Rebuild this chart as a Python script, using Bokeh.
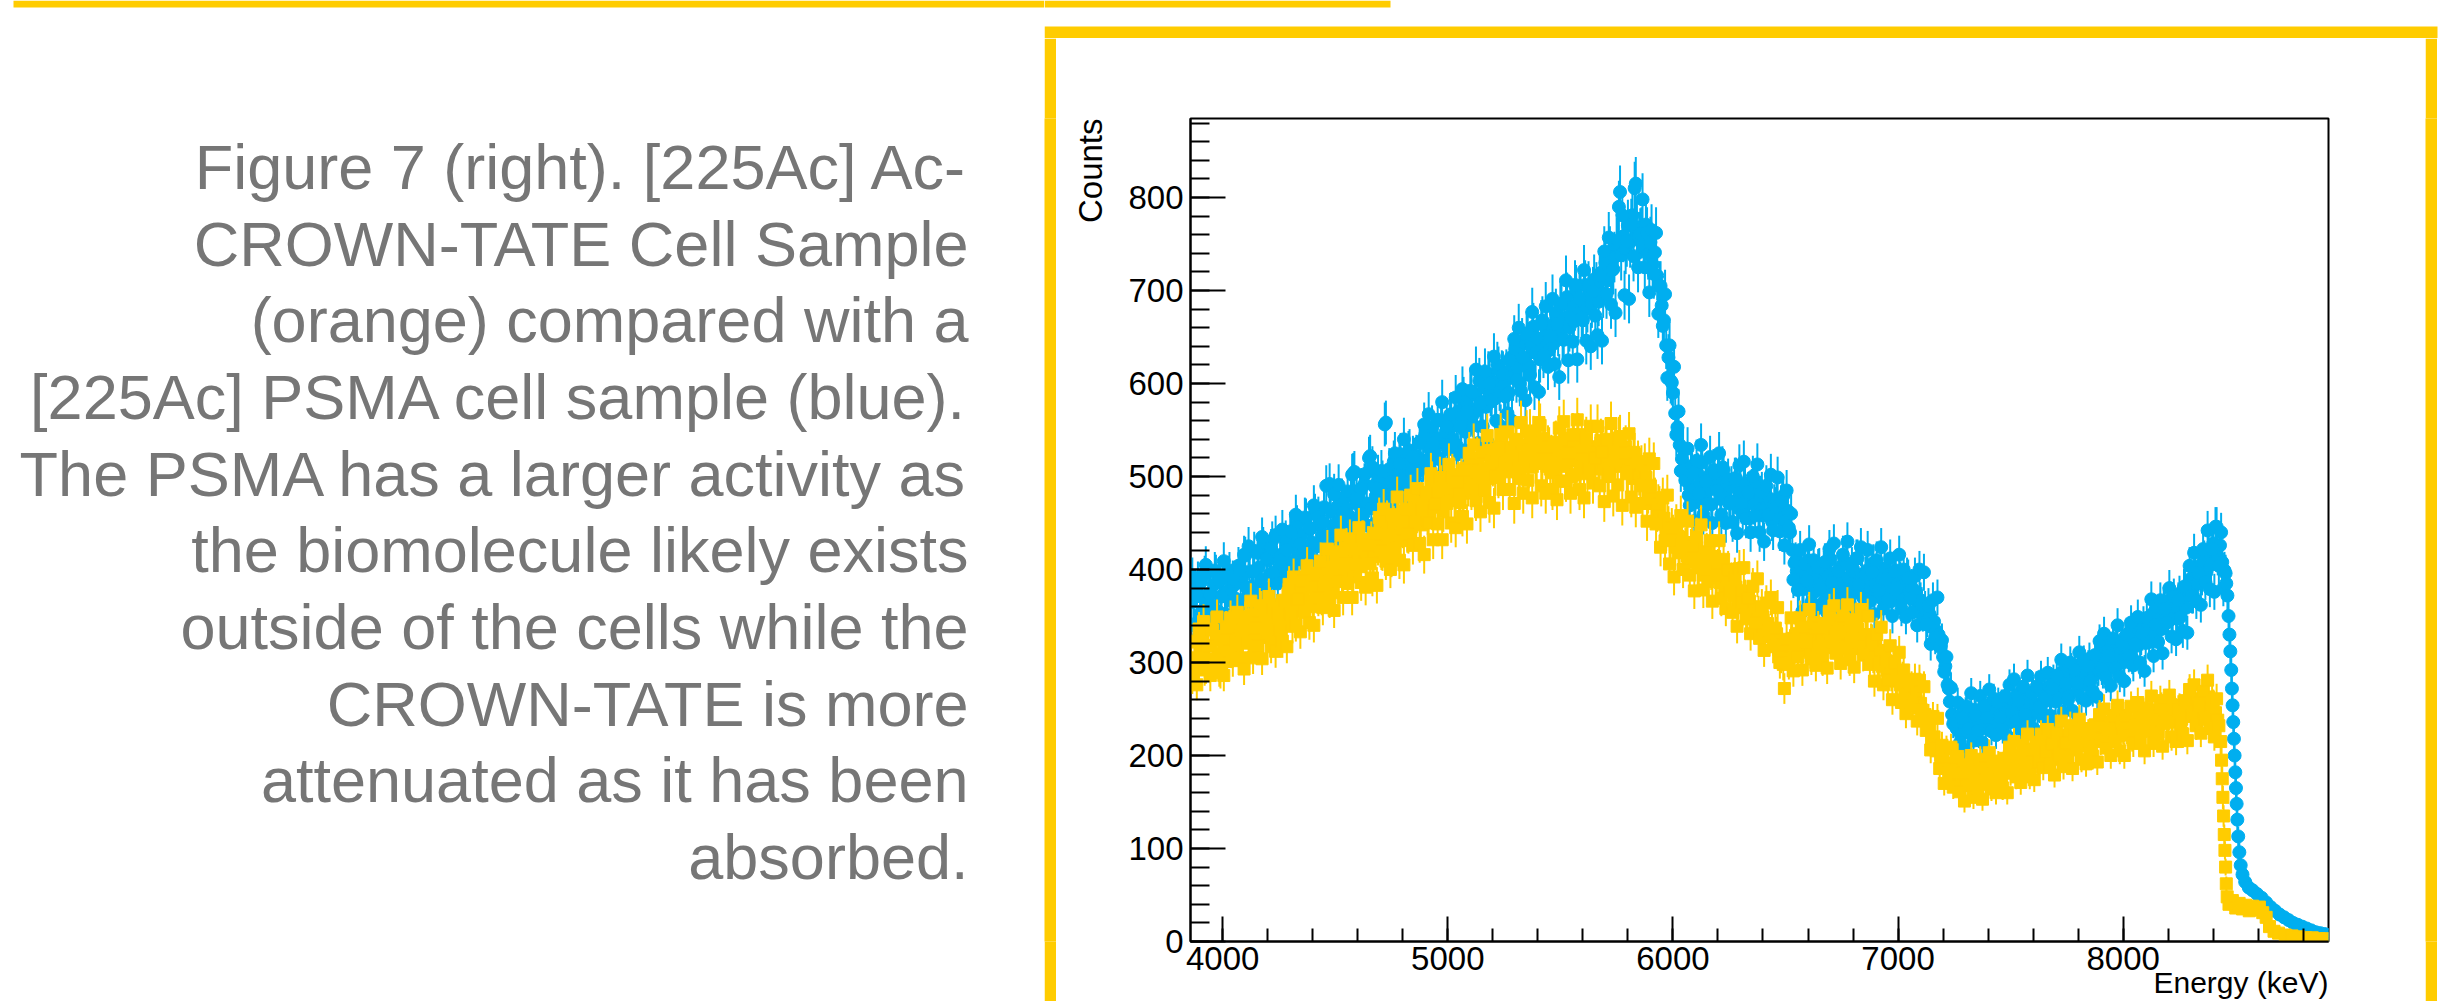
import numpy as np
from bokeh.plotting import figure
from bokeh.layouts import row, column
from bokeh.models import Range1d, SingleIntervalTicker, ColumnDataSource, Title
from bokeh.core.properties import value
from bokeh.embed import file_html
from bokeh.resources import INLINE

# ---------------- data ----------------
# Two interleaved sets of 10 keV bins: set A at E_START + 10 i, set B at E_START + 5 + 10 i
E_START = 3860      # keV
E_STEP = 10         # keV
E_SHIFT_B = 5       # keV offset of set B

# [225Ac] PSMA cell sample (blue), one row = 200 keV
psma_counts_a = [
    365, 341, 378, 389, 352, 370, 395, 348, 374, 361, 384, 396, 355, 371, 390, 350, 377, 399, 366, 383,
    387, 404, 362, 393, 415, 371, 398, 381, 420, 376, 402, 389, 425, 380, 410, 395, 431, 386, 414, 401,
    416, 395, 432, 409, 441, 402, 427, 448, 414, 437, 421, 455, 418, 444, 428, 460, 425, 449, 436, 467,
    490, 438, 462, 447, 425, 468, 452, 476, 441, 465, 458, 479, 503, 451, 470, 486, 462, 492, 471, 520,
    466, 490, 479, 501, 472, 495, 556, 484, 508, 492, 516, 487, 503, 524, 497, 512, 489, 528, 506, 519,
    522, 506, 538, 517, 545, 510, 530, 553, 525, 541, 519, 560, 536, 548, 529, 566, 540, 555, 533, 571,
    560, 583, 548, 575, 592, 566, 588, 571, 603, 580, 596, 575, 610, 589, 601, 584, 620, 595, 611, 598,
    612, 590, 628, 606, 637, 617, 600, 645, 626, 652, 619, 640, 661, 633, 648, 626, 668, 641, 657, 636,
    662, 643, 676, 655, 684, 648, 671, 693, 660, 682, 667, 701, 675, 690, 668, 706, 681, 697, 686, 712,
    704, 688, 719, 697, 730, 711, 742, 722, 736, 751, 790, 738, 758, 745, 770, 752, 781, 810, 768, 757,
    762, 748, 771, 739, 752, 728, 741, 716, 705, 684, 668, 641, 628, 603, 590, 568, 553, 534, 519, 508,
    497, 480, 511, 488, 472, 503, 492, 515, 478, 499, 486, 470, 507, 489, 496, 476, 510, 484, 493, 471,
    489, 473, 498, 466, 484, 461, 492, 478, 455, 486, 470, 494, 463, 479, 458, 482, 468, 476, 452, 470,
    474, 458, 469, 479, 452, 463, 440, 421, 407, 398, 386, 401, 379, 394, 410, 384, 397, 376, 391, 403,
    385, 400, 374, 393, 411, 380, 396, 369, 402, 388, 378, 407, 391, 372, 398, 384, 412, 379, 395, 386,
    398, 375, 392, 407, 381, 394, 370, 388, 401, 377, 395, 366, 386, 399, 374, 389, 368, 384, 393, 372,
    381, 369, 376, 360, 367, 352, 358, 346, 352, 338, 344, 334, 330, 318, 306, 296, 276, 258, 244, 236,
    229, 241, 222, 236, 247, 226, 238, 231, 249, 224, 243, 235, 253, 229, 246, 238, 258, 234, 250, 243,
    255, 240, 262, 247, 236, 259, 249, 266, 242, 255, 270, 248, 261, 244, 268, 253, 246, 272, 257, 264,
    259, 274, 266, 281, 258, 277, 269, 290, 272, 284, 265, 293, 279, 287, 271, 298, 283, 292, 277, 304,
    296, 286, 305, 292, 311, 289, 302, 318, 297, 309, 294, 322, 306, 315, 300, 328, 311, 320, 305, 333,
    318, 334, 326, 342, 321, 339, 348, 331, 355, 340, 347, 336, 362, 350, 344, 368, 352, 361, 347, 374,
    366, 381, 359, 376, 390, 372, 398, 385, 404, 392, 411, 397, 420, 405, 428, 446, 414, 426, 408, 399,
]
psma_counts_b = [
    393, 340, 372, 328, 387, 357, 405, 340, 374, 354, 399, 338, 388, 371, 409, 352, 395, 346, 390, 369,
    354, 399, 347, 416, 381, 425, 370, 398, 361, 418, 382, 435, 370, 412, 365, 423, 396, 437, 385, 410,
    443, 387, 421, 376, 440, 409, 459, 391, 428, 407, 456, 392, 445, 429, 469, 409, 457, 405, 451, 431,
    415, 492, 407, 481, 445, 491, 433, 461, 422, 484, 444, 502, 505, 477, 426, 487, 459, 503, 447, 522,
    510, 449, 487, 438, 506, 473, 558, 455, 494, 472, 525, 456, 514, 496, 540, 475, 526, 470, 521, 499,
    483, 536, 475, 556, 516, 567, 504, 536, 494, 561, 519, 580, 506, 554, 500, 567, 537, 585, 524, 554,
    594, 528, 570, 516, 591, 555, 615, 536, 579, 554, 613, 538, 600, 581, 629, 560, 615, 554, 610, 586,
    568, 625, 560, 648, 604, 660, 592, 628, 582, 654, 609, 677, 596, 649, 591, 664, 631, 683, 618, 651,
    691, 621, 664, 607, 686, 647, 711, 625, 671, 645, 706, 626, 692, 671, 722, 646, 705, 640, 699, 673,
    652, 716, 646, 742, 696, 757, 685, 723, 676, 754, 806, 781, 695, 753, 691, 771, 737, 815, 725, 761,
    798, 725, 762, 698, 765, 718, 762, 675, 705, 662, 696, 606, 641, 601, 618, 545, 570, 506, 530, 496,
    530, 469, 503, 452, 517, 482, 534, 459, 495, 471, 521, 450, 504, 485, 525, 459, 507, 450, 497, 473,
    451, 498, 439, 512, 471, 516, 455, 483, 440, 500, 458, 513, 440, 483, 430, 490, 459, 502, 442, 467,
    499, 441, 473, 426, 485, 445, 460, 389, 409, 378, 421, 355, 406, 388, 427, 365, 410, 357, 402, 380,
    364, 408, 354, 422, 386, 428, 372, 398, 360, 416, 378, 430, 364, 404, 356, 412, 384, 424, 370, 394,
    421, 366, 397, 352, 410, 378, 424, 358, 390, 368, 412, 350, 398, 380, 416, 358, 400, 349, 391, 369,
    354, 393, 340, 400, 362, 397, 341, 361, 320, 367, 327, 370, 317, 324, 290, 306, 272, 273, 234, 237,
    257, 214, 240, 206, 253, 229, 267, 216, 243, 227, 264, 214, 254, 241, 271, 226, 261, 222, 257, 241,
    228, 264, 221, 276, 247, 282, 237, 259, 228, 274, 244, 286, 234, 267, 228, 274, 252, 285, 241, 262,
    289, 243, 272, 234, 286, 261, 303, 247, 277, 260, 300, 248, 292, 278, 311, 262, 301, 259, 296, 280,
    269, 308, 263, 323, 293, 331, 284, 307, 275, 326, 294, 340, 285, 320, 280, 330, 307, 343, 297, 320,
    349, 300, 331, 291, 348, 322, 368, 307, 341, 322, 367, 310, 358, 343, 380, 328, 371, 325, 367, 349,
    334, 382, 332, 404, 372, 418, 366, 396, 362, 422, 387, 442, 379, 422, 376, 446, 404, 440, 380, 396,
]
psma_tail_energy = [8458, 8463, 8468, 8472, 8476, 8480, 8483, 8486, 8489, 8492,
                    8495, 8498, 8501, 8504, 8507, 8511, 8516, 8522, 8530, 8542,
                    8558, 8575, 8595, 8615, 8635, 8655, 8675, 8695, 8715, 8735,
                    8755, 8775, 8795, 8815, 8835, 8855, 8875, 8895, 8910]
psma_tail_counts = [385, 372, 350, 330, 312, 292, 272, 254, 236, 218,
                    200, 182, 165, 148, 131, 113, 96, 82, 72, 64,
                    58, 55, 51, 47, 42, 37, 33, 29, 26, 23,
                    20, 18, 16, 14, 12, 10, 9, 8, 7]

# [225Ac] Ac-CROWN-TATE cell sample (orange / yellow), one row = 200 keV
crown_counts_a = [
    305, 287, 322, 298, 314, 331, 292, 318, 304, 336, 297, 324, 310, 289, 328, 315, 301, 338, 312, 325,
    318, 340, 329, 305, 347, 333, 321, 352, 336, 316, 343, 358, 327, 349, 334, 362, 340, 325, 355, 346,
    343, 366, 352, 374, 358, 339, 371, 362, 384, 355, 377, 392, 366, 381, 360, 396, 375, 388, 370, 401,
    384, 402, 391, 375, 410, 396, 419, 388, 406, 424, 399, 415, 392, 429, 410, 403, 432, 417, 408, 426,
    431, 414, 437, 425, 446, 419, 440, 453, 428, 412, 447, 436, 458, 431, 444, 463, 439, 452, 446, 467,
    455, 472, 448, 466, 480, 459, 476, 494, 467, 483, 471, 490, 462, 498, 479, 486, 502, 474, 491, 484,
    497, 482, 509, 490, 516, 499, 486, 520, 505, 494, 523, 509, 498, 528, 512, 501, 519, 532, 507, 515,
    524, 505, 531, 512, 540, 517, 498, 534, 521, 548, 510, 529, 542, 515, 527, 555, 519, 536, 511, 530,
    522, 504, 537, 516, 495, 529, 541, 512, 526, 500, 533, 518, 545, 509, 524, 538, 503, 520, 532, 514,
    526, 508, 539, 515, 531, 500, 522, 536, 511, 527, 541, 514, 520, 532, 506, 518, 498, 524, 509, 502,
    511, 493, 499, 482, 490, 471, 477, 462, 468, 449, 455, 441, 447, 433, 438, 424, 436, 419, 428, 421,
    429, 414, 423, 408, 426, 402, 417, 410, 394, 419, 405, 398, 411, 391, 402, 386, 397, 381, 393, 384,
    388, 372, 381, 365, 377, 359, 370, 352, 366, 349, 358, 343, 353, 337, 349, 332, 342, 328, 336, 323,
    331, 314, 306, 298, 311, 302, 318, 326, 309, 331, 320, 313, 335, 318, 328, 311, 337, 322, 315, 333,
    326, 341, 316, 334, 322, 345, 329, 312, 338, 324, 347, 318, 333, 327, 342, 315, 336, 321, 330, 313,
    328, 312, 324, 306, 319, 301, 313, 296, 307, 292, 301, 286, 296, 280, 289, 276, 284, 270, 279, 266,
    274, 262, 268, 251, 256, 240, 244, 229, 232, 217, 220, 205, 209, 196, 199, 187, 192, 181, 186, 178,
    183, 170, 177, 189, 168, 180, 174, 186, 165, 179, 172, 188, 176, 169, 184, 178, 191, 173, 182, 187,
    179, 192, 184, 197, 181, 190, 201, 186, 195, 183, 199, 191, 205, 188, 197, 207, 193, 202, 196, 209,
    199, 213, 204, 217, 208, 196, 215, 209, 222, 203, 216, 211, 225, 206, 219, 213, 228, 210, 221, 216,
    212, 226, 219, 231, 215, 228, 222, 236, 218, 229, 224, 239, 221, 233, 227, 242, 225, 231, 219, 236,
    228, 241, 233, 246, 226, 239, 235, 249, 231, 243, 238, 252, 234, 245, 240, 255, 236, 248, 242, 251,
    239, 254, 246, 258, 243, 251, 261, 247, 256, 244, 259, 250, 263, 248, 255, 246, 238,
]
crown_counts_b = [
    283, 323, 276, 336, 306, 344, 294, 318, 286, 335, 303, 349, 291, 328, 286, 337, 312, 348, 302, 323,
    354, 304, 334, 293, 349, 321, 366, 305, 337, 318, 361, 304, 351, 335, 371, 317, 358, 312, 353, 334,
    323, 367, 317, 384, 351, 392, 341, 368, 333, 388, 354, 404, 343, 383, 340, 394, 369, 409, 359, 384,
    422, 367, 401, 356, 418, 387, 437, 370, 406, 385, 433, 370, 422, 405, 445, 386, 432, 381, 426, 406,
    391, 439, 383, 456, 420, 465, 409, 437, 400, 459, 421, 478, 410, 453, 405, 465, 438, 480, 426, 452,
    487, 428, 464, 416, 483, 450, 503, 432, 470, 449, 499, 432, 488, 471, 513, 450, 499, 445, 494, 472,
    457, 507, 449, 525, 486, 534, 474, 504, 462, 526, 485, 544, 472, 517, 466, 529, 499, 545, 486, 514,
    548, 486, 522, 471, 539, 504, 558, 482, 521, 496, 549, 477, 534, 514, 558, 490, 541, 482, 532, 508,
    486, 536, 475, 552, 511, 559, 495, 525, 482, 545, 502, 561, 486, 532, 477, 541, 509, 554, 493, 520,
    554, 490, 526, 473, 540, 503, 557, 479, 517, 491, 543, 469, 525, 503, 546, 478, 526, 467, 516, 490,
    471, 513, 452, 519, 476, 514, 449, 470, 424, 477, 431, 480, 406, 445, 392, 449, 418, 458, 400, 424,
    452, 394, 425, 377, 435, 402, 448, 378, 411, 387, 431, 366, 414, 394, 431, 369, 411, 358, 400, 376,
    354, 393, 339, 401, 365, 402, 347, 369, 331, 382, 343, 390, 326, 360, 313, 364, 334, 370, 317, 337,
    359, 300, 319, 272, 325, 299, 348, 291, 324, 306, 348, 292, 338, 322, 357, 304, 343, 297, 337, 317,
    303, 342, 294, 355, 323, 361, 310, 333, 299, 350, 315, 362, 303, 339, 295, 346, 321, 357, 308, 330,
    350, 298, 323, 280, 330, 299, 338, 276, 302, 281, 318, 260, 300, 282, 311, 257, 292, 245, 280, 258,
    254, 282, 237, 281, 249, 274, 227, 240, 206, 242, 208, 240, 186, 211, 170, 207, 182, 209, 166, 182,
    199, 161, 181, 151, 190, 168, 200, 155, 179, 164, 196, 153, 187, 176, 203, 164, 194, 160, 191, 177,
    165, 197, 160, 209, 185, 215, 177, 196, 171, 211, 185, 223, 177, 206, 174, 214, 195, 223, 187, 204,
    228, 189, 212, 179, 224, 201, 237, 188, 213, 198, 232, 186, 223, 211, 239, 196, 229, 191, 224, 209,
    199, 233, 193, 244, 218, 250, 208, 228, 200, 243, 215, 254, 205, 236, 200, 243, 222, 253, 213, 232,
    257, 215, 239, 205, 251, 227, 264, 213, 239, 223, 259, 210, 249, 236, 265, 220, 254, 215, 249, 233,
    223, 259, 216, 271, 242, 276, 232, 254, 224, 269, 239, 281, 229, 259, 220, 261, 232,
]
crown_tail_energy = [8433, 8437, 8440, 8443, 8446, 8449, 8452, 8455, 8458, 8462,
                     8470, 8485, 8500, 8515, 8530, 8545, 8560, 8575, 8590, 8605,
                     8620, 8635, 8650, 8670, 8690, 8720, 8750, 8780, 8810, 8840,
                     8870, 8900]
crown_tail_counts = [215, 195, 175, 155, 135, 115, 98, 80, 62, 48,
                     40, 44, 36, 41, 35, 39, 33, 38, 34, 37,
                     31, 26, 16, 11, 9, 7, 6, 5, 4, 4,
                     3, 3]

caption_lines = [
    "Figure 7 (right). [225Ac] Ac-",
    "CROWN-TATE Cell Sample",
    "(orange) compared with a",
    "[225Ac] PSMA cell sample (blue).",
    "The PSMA has a larger activity as",
    "the biomolecule likely exists",
    "outside of the cells while the",
    "CROWN-TATE is more",
    "attenuated as it has been",
    "absorbed.",
]
x_title = "Energy (keV)"
y_title = "Counts"

# ---------------- style / geometry ----------------
BLUE = "#00AEEF"
YELLOW = "#FFCC00"
GRAY = "#767676"
FONT = "Liberation Sans"

W, H = 2458, 1001
PANEL_L, PANEL_R, PANEL_T, BORDER = 1044, 2437, 26, 12   # yellow panel around the chart
FL, FR, FT, FB = 1189, 2328, 118, 941                     # chart frame (canvas px)
TOP_H = PANEL_T + BORDER                                  # height of top strip


def blank(width, height, x0, x1, y0, y1, fill="white"):
    f = figure(width=width, height=height, x_range=Range1d(x0, x1), y_range=Range1d(y0, y1),
               output_backend="svg", toolbar_location=None, title=None,
               x_axis_location=None, y_axis_location=None, min_border=0,
               min_border_left=0, min_border_right=0, min_border_top=0, min_border_bottom=0)
    f.grid.visible = False
    f.outline_line_color = None
    f.background_fill_color = fill
    f.border_fill_color = fill
    return f


# ----- left caption area (canvas pixel coordinates, y downward) -----
left = blank(PANEL_L, H, 0, PANEL_L, H, 0)
left.quad(left=[13], right=[PANEL_L], top=[0], bottom=[7], fill_color=YELLOW, line_color=None)
cap_src = ColumnDataSource(dict(
    x=[968] * len(caption_lines),
    y=[166.5 + 76.67 * k for k in range(len(caption_lines))],
    t=caption_lines))
left.text(x="x", y="y", text="t", source=cap_src, text_align="right",
          text_baseline="alphabetic", text_font=value(FONT),
          text_font_size=value("63px"), text_color=GRAY)

# ----- top strip of the right part -----
top = blank(W - PANEL_L, TOP_H, PANEL_L, W, TOP_H, 0)
top.quad(left=[PANEL_L], right=[1390], top=[0], bottom=[7], fill_color=YELLOW, line_color=None)
top.quad(left=[PANEL_L], right=[PANEL_R], top=[PANEL_T], bottom=[TOP_H],
         fill_color=YELLOW, line_color=None)

# ----- side borders -----
side_h = H - TOP_H
yl = blank(BORDER, side_h, 0, 1, 0, 1, fill=YELLOW)
yr = blank(BORDER, side_h, 0, 1, 0, 1, fill=YELLOW)
wr = blank(W - PANEL_R, side_h, 0, 1, 0, 1, fill="white")


# ----- the histogram -----
def make_source(set_a, set_b, tail_e, tail_c):
    e = ([E_START + E_STEP * i for i in range(len(set_a))]
         + [E_START + E_SHIFT_B + E_STEP * i for i in range(len(set_b))]
         + list(tail_e))
    c = np.array(list(set_a) + list(set_b) + list(tail_c), dtype=float)
    err = np.sqrt(c)
    return ColumnDataSource(dict(e=np.array(e, dtype=float), c=c, lo=c - err, hi=c + err))


src_blue = make_source(psma_counts_a, psma_counts_b, psma_tail_energy, psma_tail_counts)
src_yel = make_source(crown_counts_a, crown_counts_b, crown_tail_energy, crown_tail_counts)

ch_x0 = PANEL_L + BORDER
ch_w = (PANEL_R - BORDER) - ch_x0
p = figure(width=ch_w, height=side_h, x_range=Range1d(3857, 8912), y_range=Range1d(0, 885),
           output_backend="svg", toolbar_location=None, title=None,
           min_border_left=FL - ch_x0, min_border_right=(PANEL_R - BORDER) - FR,
           min_border_top=FT - TOP_H, min_border_bottom=H - FB)
p.grid.visible = False
p.background_fill_color = "white"
p.border_fill_color = "white"
p.outline_line_color = "black"
p.outline_line_width = 2
p.outline_line_alpha = 1.0

p.xaxis.ticker = SingleIntervalTicker(interval=1000, num_minor_ticks=5)
p.yaxis.ticker = SingleIntervalTicker(interval=100, num_minor_ticks=5)
for ax in (p.xaxis, p.yaxis):
    ax.axis_line_color = "black"
    ax.axis_line_width = 2
    ax.major_tick_line_color = "black"
    ax.major_tick_line_width = 2
    ax.minor_tick_line_color = "black"
    ax.minor_tick_line_width = 2
    ax.major_tick_out = 0
    ax.minor_tick_out = 0
    ax.major_label_text_font = FONT
    ax.major_label_text_font_size = "33px"
    ax.major_label_text_color = "black"
p.xaxis.major_tick_in = 25
p.xaxis.minor_tick_in = 13
p.xaxis.major_label_standoff = 5
p.yaxis.major_tick_in = 35
p.yaxis.minor_tick_in = 19
p.yaxis.major_label_standoff = 7

# axis titles, ROOT style: aligned to the far end of each axis
p.add_layout(Title(text=y_title, align="right", vertical_align="top", standoff=30,
                   text_font=FONT, text_font_style="normal", text_font_size="33px",
                   text_color="black"), "left")
p.add_layout(Title(text=x_title, align="right", vertical_align="top", standoff=-14,
                   text_font=FONT, text_font_style="normal", text_font_size="30px",
                   text_color="black"), "below")

p.segment(x0="e", y0="lo", x1="e", y1="hi", source=src_blue, line_color=BLUE, line_width=2)
p.scatter(x="e", y="c", source=src_blue, marker="circle", size=13,
          fill_color=BLUE, line_color=BLUE)
p.segment(x0="e", y0="lo", x1="e", y1="hi", source=src_yel, line_color=YELLOW, line_width=2)
p.scatter(x="e", y="c", source=src_yel, marker="square", size=12,
          fill_color=YELLOW, line_color=YELLOW)

layout = row(left, column(top, row(yl, p, yr, wr, spacing=0), spacing=0), spacing=0)

open("out.html", "w").write(file_html(layout, INLINE))
